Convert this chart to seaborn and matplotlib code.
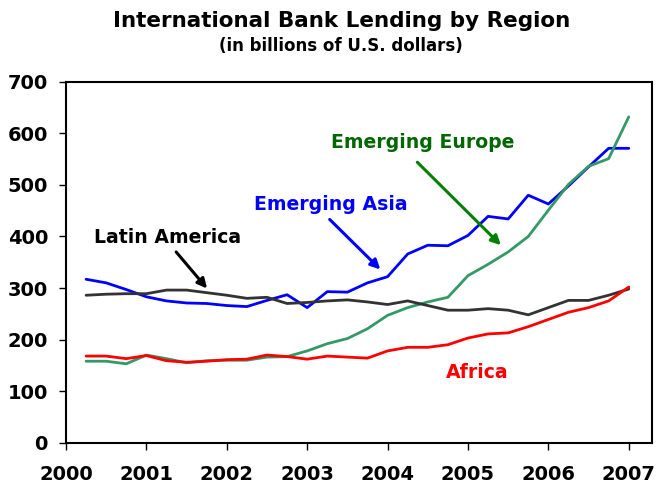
import numpy as np
import pandas as pd
import matplotlib
matplotlib.use("Agg")
import matplotlib.pyplot as plt
import seaborn as sns

# quarterly observations, 2000Q1 .. 2006Q4
quarters = np.arange(2000.25, 2007.01, 0.25)

emerging_asia = [317, 310, 297, 283, 275, 271, 270, 266, 264, 276, 287, 262, 293, 292,
                 310, 322, 366, 383, 382, 402, 439, 434, 480, 463, 498, 535, 571, 571]
emerging_europe = [158, 158, 153, 170, 163, 155, 159, 160, 160, 166, 167, 178, 192, 202,
                   221, 247, 262, 273, 282, 324, 346, 370, 400, 451, 501, 536, 551, 632]
latin_america = [286, 288, 289, 289, 296, 296, 291, 286, 280, 282, 270, 272, 275, 277,
                 273, 268, 275, 266, 257, 257, 260, 257, 248, 262, 276, 276, 286, 298]
africa = [168, 168, 163, 169, 159, 156, 158, 161, 162, 170, 167, 162, 168, 166,
          164, 178, 185, 185, 190, 203, 211, 213, 225, 239, 253, 262, 275, 302]

regions = ["Emerging Asia", "Emerging Europe", "Latin America", "Africa"]
colors = {"Emerging Asia": "#0000ff", "Emerging Europe": "#339966",
          "Latin America": "#333333", "Africa": "#ff0000"}

df = pd.DataFrame({"quarter": quarters,
                   "Emerging Asia": emerging_asia,
                   "Emerging Europe": emerging_europe,
                   "Latin America": latin_america,
                   "Africa": africa})
long_df = df.melt(id_vars="quarter", var_name="region", value_name="lending")

sns.set_style("ticks")
plt.rcParams["font.family"] = ["DejaVu Sans"]
plt.rcParams["text.color"] = "black"
plt.rcParams["xtick.color"] = "black"
plt.rcParams["ytick.color"] = "black"

fig = plt.figure(figsize=(6.6, 4.87), dpi=100)
ax = fig.add_axes([0.1, 0.091, 0.888, 0.741])

sns.lineplot(data=long_df, x="quarter", y="lending", hue="region",
             hue_order=regions, palette=colors, linewidth=2, legend=False, ax=ax)

ax.set_xlim(2000, 2007.29)
ax.set_ylim(0, 700)
ax.set_xticks(range(2000, 2008))
ax.set_yticks(range(0, 701, 100))
ax.tick_params(axis="x", labelsize=14, length=5, width=1, pad=11)
ax.tick_params(axis="y", labelsize=14, length=5, width=1, pad=8)
for lab in ax.get_xticklabels() + ax.get_yticklabels():
    lab.set_fontweight("bold")
ax.set_xlabel("")
ax.set_ylabel("")
for sp in ax.spines.values():
    sp.set_linewidth(1.5)
    sp.set_color("black")

fig.text(0.517, 0.957, "International Bank Lending by Region",
         ha="center", va="center", fontsize=15.5, fontweight="bold")
fig.text(0.517, 0.905, "(in billions of U.S. dollars)",
         ha="center", va="center", fontsize=12, fontweight="bold")

# labels
ax.text(2004.44, 582, "Emerging Europe", ha="center", va="center", fontsize=13.6,
        fontweight="bold", color="#006600")
ax.text(2003.29, 462, "Emerging Asia", ha="center", va="center", fontsize=13.6,
        fontweight="bold", color="#0000ff")
ax.text(2001.26, 398, "Latin America", ha="center", va="center", fontsize=13.6,
        fontweight="bold", color="black")
ax.text(2005.11, 137, "Africa", ha="center", va="center", fontsize=13.6,
        fontweight="bold", color="#ff0000")

# arrows
arrow_kw = dict(arrowstyle="-|>", lw=2.2, mutation_scale=14, shrinkA=0, shrinkB=0)
ax.annotate("", xy=(2005.41, 383), xytext=(2004.37, 544),
            arrowprops=dict(color="#008000", **arrow_kw))
ax.annotate("", xy=(2003.91, 336), xytext=(2003.28, 433),
            arrowprops=dict(color="#0000ff", **arrow_kw))
ax.annotate("", xy=(2001.755, 299), xytext=(2001.37, 370),
            arrowprops=dict(color="black", **arrow_kw))

fig.savefig("out.png", dpi=100)
